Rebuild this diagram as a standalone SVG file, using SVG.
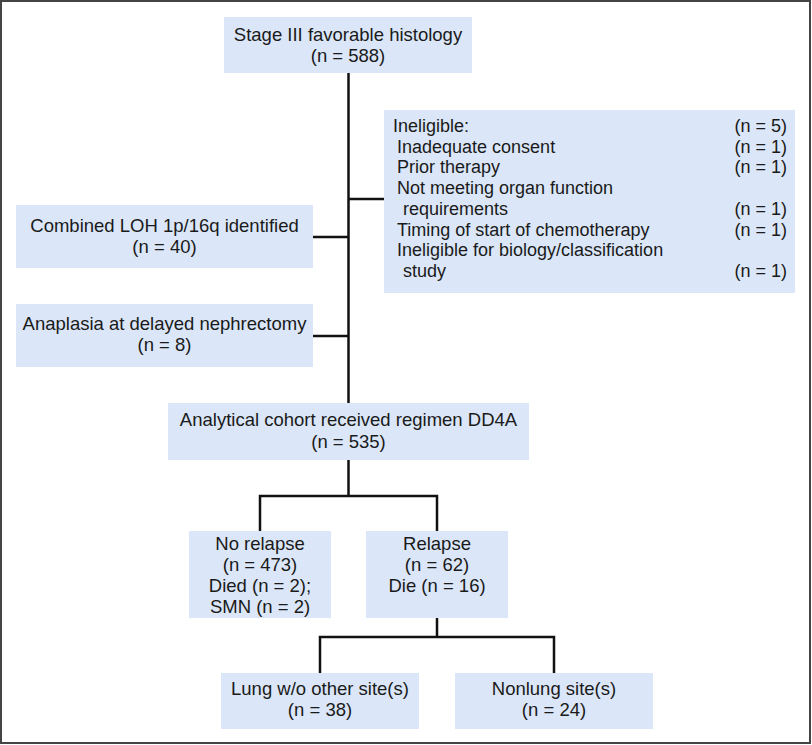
<svg xmlns="http://www.w3.org/2000/svg" width="812" height="745" viewBox="0 0 812 745">
<style>
.box{fill:#dbe7f8;stroke:none}
.t{font-family:"Liberation Sans",Arial,Helvetica,sans-serif;font-size:18.5px;fill:#1a1a1a;text-anchor:middle}
.s{font-family:"Liberation Sans",Arial,Helvetica,sans-serif;font-size:18px;fill:#1a1a1a}
.r{text-anchor:end}
.c{fill:none;stroke:#111;stroke-width:2.5}
</style>
<rect x="1" y="1" width="809" height="742" fill="#fff" stroke="#444" stroke-width="2"/>
<g id="connectors">
<path class="c" d="M348.5 73V403M348.5 199H384M313 237H348.5M313 336H348.5"/>
<path class="c" d="M348.5 460V496M260 531V496H437V531"/>
<path class="c" d="M437 618V637M320 673V637H554V673"/>
</g>
<g id="n-stage">
<rect class="box" x="224" y="17" width="248" height="56"/>
<text class="t" x="348" y="41">Stage III favorable histology</text>
<text class="t" x="348" y="62">(n = 588)</text>
</g>
<g id="n-ineligible">
<rect class="box" x="384" y="110" width="411" height="183"/>
<text class="s" x="393" y="132">Ineligible:</text>
<text class="s r" x="787" y="132">(n = 5)</text>
<text class="s" x="397" y="152.7">Inadequate consent</text>
<text class="s r" x="787" y="152.7">(n = 1)</text>
<text class="s" x="397" y="173.4">Prior therapy</text>
<text class="s r" x="787" y="173.4">(n = 1)</text>
<text class="s" x="397" y="194.1">Not meeting organ function</text>
<text class="s" x="403" y="214.8">requirements</text>
<text class="s r" x="787" y="214.8">(n = 1)</text>
<text class="s" x="397" y="235.5">Timing of start of chemotherapy</text>
<text class="s r" x="787" y="235.5">(n = 1)</text>
<text class="s" x="397" y="256.2">Ineligible for biology/classification</text>
<text class="s" x="403" y="276.9">study</text>
<text class="s r" x="787" y="276.9">(n = 1)</text>
</g>
<g id="n-loh">
<rect class="box" x="16" y="205" width="297" height="63"/>
<text class="t" x="164.5" y="232">Combined LOH 1p/16q identified</text>
<text class="t" x="164.5" y="253">(n = 40)</text>
</g>
<g id="n-anaplasia">
<rect class="box" x="16" y="304" width="297" height="63"/>
<text class="t" x="164.5" y="330">Anaplasia at delayed nephrectomy</text>
<text class="t" x="164.5" y="351">(n = 8)</text>
</g>
<g id="n-cohort">
<rect class="box" x="168" y="403" width="361" height="57"/>
<text class="t" x="348.5" y="426">Analytical cohort received regimen DD4A</text>
<text class="t" x="348.5" y="448">(n = 535)</text>
</g>
<g id="n-norelapse">
<rect class="box" x="189" y="531" width="142" height="87"/>
<text class="t" x="260" y="550">No relapse</text>
<text class="t" x="260" y="571">(n = 473)</text>
<text class="t" x="260" y="592">Died (n = 2);</text>
<text class="t" x="260" y="613">SMN (n = 2)</text>
</g>
<g id="n-relapse">
<rect class="box" x="366" y="531" width="142" height="87"/>
<text class="t" x="437" y="550">Relapse</text>
<text class="t" x="437" y="571">(n = 62)</text>
<text class="t" x="437" y="592">Die (n = 16)</text>
</g>
<g id="n-lung">
<rect class="box" x="221" y="673" width="198" height="56"/>
<text class="t" x="320" y="695">Lung w/o other site(s)</text>
<text class="t" x="320" y="716">(n = 38)</text>
</g>
<g id="n-nonlung">
<rect class="box" x="455" y="673" width="198" height="56"/>
<text class="t" x="554" y="695">Nonlung site(s)</text>
<text class="t" x="554" y="716">(n = 24)</text>
</g>
</svg>
